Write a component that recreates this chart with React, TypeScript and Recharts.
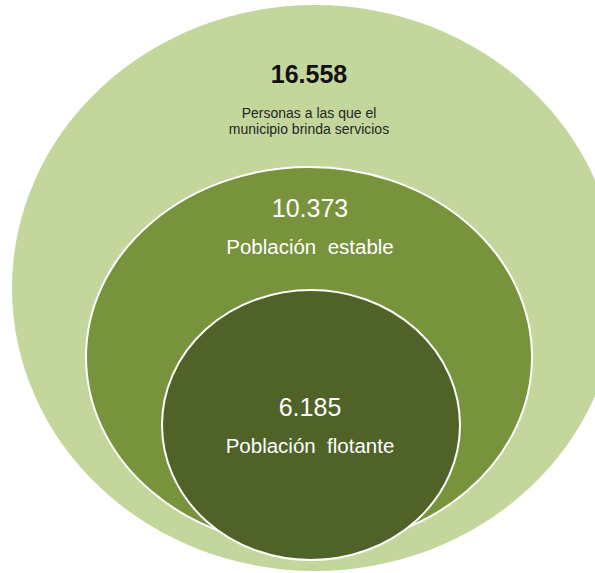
import { ScatterChart, Scatter, XAxis, YAxis } from "recharts";

// population groups, outer to inner
const groupValues = [16558, 10373, 6185];
const groupLabels = [
  ["Personas a las que el", "municipio brinda servicios"],
  ["Población  estable"],
  ["Población  flotante"],
];

// ellipse geometry in chart units (1 unit = 1 px of the 595x573 plot)
const centerX = [315, 309, 311];
const centerY = [288, 357, 425];
const radiusX = [303, 223, 149];
const radiusY = [283, 190, 135];
const textCenter = [309, 310, 310];
const valueBaseline = [83, 217, 416];
const labelBaseline = [118, 254, 453];

const W = 595;
const H = 573;

const fills = ["#c3d69b", "#77933c", "#4f6228"];

const fmt = (v: number) => String(v).replace(/\B(?=(\d{3})+(?!\d))/g, ".");

const data = groupValues.map((v, i) => ({
  x: centerX[i],
  y: centerY[i],
  rx: radiusX[i],
  ry: radiusY[i],
  value: v,
  lines: groupLabels[i],
  textX: textCenter[i],
  valueY: valueBaseline[i],
  labelY: labelBaseline[i],
  idx: i,
}));

function Ring(props: any) {
  const { cx, cy, payload } = props;
  const i = payload.idx;
  const outer = i === 0;
  const dy = (v: number) => cy + (v - payload.y);
  const tx = cx + (payload.textX - payload.x);
  return (
    <g>
      <ellipse
        cx={cx}
        cy={cy}
        rx={payload.rx}
        ry={payload.ry}
        fill={fills[i]}
        stroke={outer ? "none" : "#ffffff"}
        strokeWidth={2}
      />
      <text
        x={tx}
        y={dy(payload.valueY)}
        textAnchor="middle"
        fontFamily="'Liberation Sans', Arial, sans-serif"
        fontSize={25}
        fontWeight={outer ? 700 : 400}
        fill={outer ? "#111111" : "#ffffff"}
      >
        {fmt(payload.value)}
      </text>
      {payload.lines.map((line: string, j: number) => (
        <text
          key={j}
          x={tx}
          y={dy(payload.labelY) + j * 16}
          textAnchor="middle"
          fontFamily="'Liberation Sans', Arial, sans-serif"
          fontSize={outer ? 14 : 20.5}
          fill={outer ? "#262626" : "#ffffff"}
          style={{ whiteSpace: "pre" }}
        >
          {line}
        </text>
      ))}
    </g>
  );
}

export default function App() {
  return (
    <div style={{ position: "absolute", left: 0, top: 0, background: "#fff" }}>
      <ScatterChart
        width={W}
        height={H}
        margin={{ top: 0, right: 0, bottom: 0, left: 0 }}
      >
        <XAxis type="number" dataKey="x" domain={[0, W]} hide />
        <YAxis type="number" dataKey="y" domain={[0, H]} reversed hide />
        <Scatter data={data} shape={<Ring />} isAnimationActive={false} />
      </ScatterChart>
    </div>
  );
}
